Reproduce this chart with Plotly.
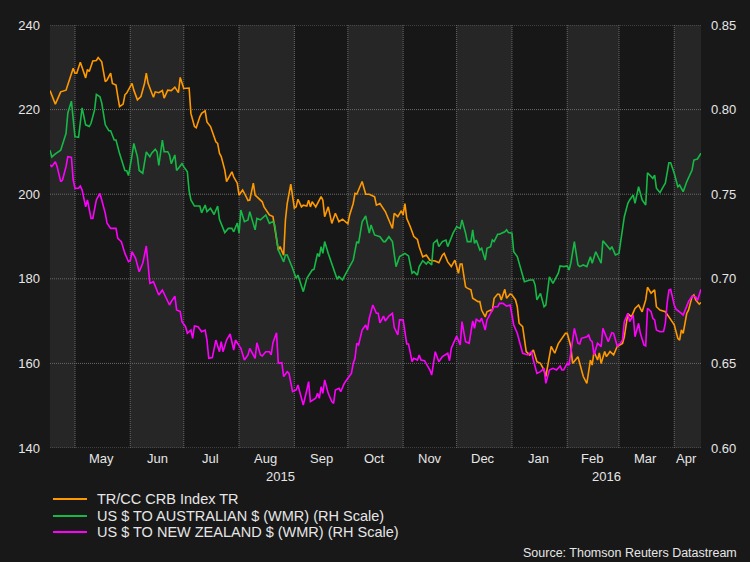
import plotly.graph_objects as go

# ---------------- data ----------------
crb = [("2015-04-17",224.5),("2015-04-20",221.3),("2015-04-23",224.2),("2015-04-26",224.6),("2015-04-30",229.8),
("2015-05-01",228.6),("2015-05-02",228.6),("2015-05-04",231.2),("2015-05-07",227.5),("2015-05-08",229.5),("2015-05-09",229.0),
("2015-05-11",231.5),("2015-05-13",231.6),("2015-05-14",232.3),("2015-05-16",231.3),("2015-05-18",226.6),("2015-05-19",227.0),
("2015-05-21",228.6),("2015-05-22",226.2),("2015-05-24",225.8),("2015-05-25",223.1),("2015-05-26",220.7),("2015-05-28",221.3),
("2015-05-29",223.5),("2015-05-30",223.9),("2015-06-02",226.2),("2015-06-03",224.6),("2015-06-05",222.3),("2015-06-07",223.1),
("2015-06-09",226.2),("2015-06-10",228.6),("2015-06-11",226.2),("2015-06-13",224.0),("2015-06-14",222.9),("2015-06-15",224.2),
("2015-06-17",224.0),("2015-06-19",224.5),("2015-06-20",222.7),("2015-06-22",224.6),("2015-06-24",224.5),("2015-06-26",225.3),
("2015-06-28",224.0),("2015-06-29",227.6),("2015-07-01",225.0),("2015-07-04",225.1),("2015-07-05",219.1),("2015-07-07",216.0),
("2015-07-08",215.7),("2015-07-10",218.3),("2015-07-11",219.1),("2015-07-13",219.7),("2015-07-14",217.1),("2015-07-16",216.0),
("2015-07-19",212.4),("2015-07-20",212.0),("2015-07-21",209.7),("2015-07-22",208.9),("2015-07-24",205.7),("2015-07-25",203.0),
("2015-07-28",205.3),("2015-07-29",204.1),("2015-07-31",202.6),("2015-08-01",199.8),("2015-08-03",201.0),("2015-08-05",199.4),
("2015-08-06",198.5),("2015-08-07",198.6),("2015-08-09",202.6),("2015-08-10",199.8),("2015-08-12",199.0),("2015-08-14",198.2),
("2015-08-15",197.0),("2015-08-18",195.1),("2015-08-20",194.7),("2015-08-21",192.3),("2015-08-23",186.8),("2015-08-24",187.6),
("2015-08-26",185.6),("2015-08-27",193.9),("2015-08-28",197.8),("2015-08-30",202.4),("2015-09-01",196.7),("2015-09-02",197.0),
("2015-09-03",198.8),("2015-09-05",197.0),("2015-09-06",197.4),("2015-09-08",197.2),("2015-09-09",198.6),("2015-09-10",197.0),
("2015-09-11",198.2),("2015-09-13",197.0),("2015-09-16",199.4),("2015-09-17",198.6),("2015-09-18",194.7),("2015-09-20",197.0),
("2015-09-22",193.1),("2015-09-24",195.5),("2015-09-26",193.5),("2015-09-28",194.1),("2015-10-01",193.0),("2015-10-02",195.1),
("2015-10-04",197.8),("2015-10-05",200.2),("2015-10-06",200.0),("2015-10-09",203.0),("2015-10-11",200.0),("2015-10-13",200.0),
("2015-10-16",199.4),("2015-10-17",197.4),("2015-10-19",197.8),("2015-10-22",195.9),("2015-10-24",193.9),("2015-10-26",191.9),
("2015-10-27",195.5),("2015-10-29",194.7),("2015-10-31",196.1),("2015-11-01",195.1),("2015-11-02",197.8),("2015-11-03",194.3),
("2015-11-05",192.3),("2015-11-07",190.0),("2015-11-09",189.3),("2015-11-10",187.6),("2015-11-12",185.2),("2015-11-14",185.6),
("2015-11-16",184.4),("2015-11-19",184.2),("2015-11-21",183.8),("2015-11-23",185.6),("2015-11-24",186.0),("2015-11-26",184.0),
("2015-11-28",182.9),("2015-11-30",184.4),("2015-12-02",181.3),("2015-12-03",183.5),("2015-12-04",183.5),("2015-12-06",178.1),
("2015-12-07",177.8),("2015-12-09",177.4),("2015-12-10",175.4),("2015-12-13",174.6),("2015-12-14",174.6),("2015-12-15",172.6),
("2015-12-17",171.0),("2015-12-18",172.2),("2015-12-20",172.6),("2015-12-21",172.5),("2015-12-22",175.4),("2015-12-24",176.4),
("2015-12-25",176.3),("2015-12-26",175.0),("2015-12-28",177.5),("2015-12-29",175.4),("2015-12-31",176.4),("2016-01-01",176.2),
("2016-01-03",175.0),("2016-01-04",173.4),("2016-01-05",169.5),("2016-01-07",168.7),("2016-01-09",162.8),("2016-01-11",162.0),
("2016-01-13",163.2),("2016-01-15",160.4),("2016-01-17",160.0),("2016-01-19",158.4),("2016-01-20",156.9),("2016-01-23",164.0),
("2016-01-25",162.4),("2016-01-27",164.7),("2016-01-31",167.1),("2016-02-01",167.1),("2016-02-03",164.0),("2016-02-04",160.0),
("2016-02-07",161.6),("2016-02-10",156.9),("2016-02-12",155.3),("2016-02-14",160.8),("2016-02-15",159.6),("2016-02-16",162.8),
("2016-02-18",160.8),("2016-02-19",162.5),("2016-02-20",160.0),("2016-02-22",162.8),("2016-02-23",161.6),("2016-02-25",162.8),
("2016-02-27",162.0),("2016-02-29",164.0),("2016-03-03",164.7),("2016-03-04",166.3),("2016-03-06",171.8),("2016-03-08",171.0),
("2016-03-10",173.0),("2016-03-12",173.8),("2016-03-14",172.2),("2016-03-16",175.0),("2016-03-17",178.0),("2016-03-19",176.6),
("2016-03-21",177.4),("2016-03-22",173.4),("2016-03-24",172.6),("2016-03-27",172.2),("2016-03-29",171.0),("2016-04-01",169.1),
("2016-04-03",165.9),("2016-04-04",165.5),("2016-04-05",167.9),("2016-04-06",167.1),("2016-04-08",171.8),("2016-04-09",172.6),
("2016-04-11",175.8),("2016-04-12",176.2),("2016-04-13",175.0),("2016-04-15",174.0),("2016-04-16",174.4)]

aud = [("2015-04-17",0.776),("2015-04-18",0.772),("2015-04-20",0.7738),("2015-04-23",0.776),("2015-04-26",0.786),("2015-04-27",0.798),
("2015-04-29",0.805),("2015-04-30",0.7939),("2015-05-01",0.784),("2015-05-03",0.7836),("2015-05-04",0.794),("2015-05-05",0.801),
("2015-05-07",0.791),("2015-05-09",0.790),("2015-05-10",0.7919),("2015-05-12",0.7998),("2015-05-13",0.809),("2015-05-15",0.8076),
("2015-05-16",0.804),("2015-05-18",0.791),("2015-05-20",0.7875),("2015-05-21",0.7875),("2015-05-23",0.782),("2015-05-24",0.782),
("2015-05-26",0.774),("2015-05-27",0.7702),("2015-05-29",0.764),("2015-05-30",0.7639),("2015-05-31",0.761),("2015-06-02",0.773),
("2015-06-03",0.780),("2015-06-05",0.7722),("2015-06-06",0.764),("2015-06-08",0.7624),("2015-06-09",0.7683),("2015-06-10",0.775),
("2015-06-12",0.7722),("2015-06-13",0.7742),("2015-06-15",0.7765),("2015-06-16",0.7751),("2015-06-17",0.767),("2015-06-19",0.782),
("2015-06-20",0.7751),("2015-06-22",0.7751),("2015-06-23",0.7732),("2015-06-24",0.768),("2015-06-26",0.7732),("2015-06-27",0.764),
("2015-06-28",0.7653),("2015-06-30",0.768),("2015-07-01",0.7663),("2015-07-03",0.7633),("2015-07-04",0.752),("2015-07-05",0.7466),
("2015-07-07",0.743),("2015-07-10",0.743),("2015-07-11",0.739),("2015-07-13",0.7436),("2015-07-14",0.7397),("2015-07-16",0.7417),
("2015-07-18",0.738),("2015-07-20",0.743),("2015-07-21",0.7352),("2015-07-24",0.7273),("2015-07-26",0.7298),("2015-07-28",0.7298),
("2015-07-29",0.7278),("2015-07-31",0.733),("2015-08-01",0.727),("2015-08-02",0.7406),("2015-08-04",0.7338),("2015-08-06",0.7348),
("2015-08-07",0.7397),("2015-08-10",0.7289),("2015-08-11",0.7357),("2015-08-13",0.7348),("2015-08-16",0.7377),("2015-08-18",0.7328),
("2015-08-20",0.7338),("2015-08-21",0.7318),("2015-08-23",0.717),("2015-08-26",0.710),("2015-08-27",0.7141),("2015-08-28",0.7141),
("2015-08-31",0.7062),("2015-09-02",0.7003),("2015-09-03",0.7022),("2015-09-06",0.6924),("2015-09-08",0.7003),("2015-09-11",0.7052),
("2015-09-12",0.7056),("2015-09-14",0.715),("2015-09-15",0.7131),("2015-09-16",0.719),("2015-09-17",0.715),("2015-09-18",0.722),
("2015-09-20",0.715),("2015-09-23",0.7052),("2015-09-25",0.6997),("2015-09-26",0.7013),("2015-09-28",0.6993),("2015-09-30",0.7033),
("2015-10-01",0.7052),("2015-10-04",0.7111),("2015-10-06",0.722),("2015-10-07",0.721),("2015-10-09",0.7337),("2015-10-11",0.7371),
("2015-10-13",0.727),("2015-10-14",0.7318),("2015-10-16",0.7259),("2015-10-19",0.7249),("2015-10-21",0.722),("2015-10-22",0.722),
("2015-10-24",0.7249),("2015-10-26",0.722),("2015-10-28",0.7072),("2015-10-30",0.7131),("2015-11-02",0.715),("2015-11-04",0.7135),
("2015-11-06",0.7033),("2015-11-07",0.7042),("2015-11-09",0.7022),("2015-11-10",0.7072),("2015-11-12",0.7107),("2015-11-14",0.7087),
("2015-11-15",0.7101),("2015-11-17",0.7082),("2015-11-18",0.721),("2015-11-20",0.7229),("2015-11-21",0.719),("2015-11-23",0.722),
("2015-11-25",0.7229),("2015-11-26",0.719),("2015-11-29",0.727),("2015-12-01",0.7308),("2015-12-03",0.7298),("2015-12-04",0.7348),
("2015-12-06",0.727),("2015-12-07",0.722),("2015-12-09",0.722),("2015-12-10",0.7289),("2015-12-11",0.721),("2015-12-12",0.7229),
("2015-12-14",0.717),("2015-12-15",0.718),("2015-12-17",0.7111),("2015-12-18",0.718),("2015-12-20",0.719),("2015-12-21",0.7229),
("2015-12-22",0.722),("2015-12-24",0.7263),("2015-12-25",0.7263),("2015-12-28",0.7278),("2015-12-29",0.7289),("2015-12-30",0.7273),
("2016-01-01",0.727),("2016-01-02",0.716),("2016-01-04",0.7131),("2016-01-06",0.7052),("2016-01-08",0.6983),("2016-01-11",0.6993),
("2016-01-13",0.6993),("2016-01-14",0.6963),("2016-01-15",0.6875),("2016-01-17",0.6914),("2016-01-19",0.6835),("2016-01-20",0.6845),
("2016-01-22",0.7012),("2016-01-24",0.6973),("2016-01-25",0.6993),("2016-01-27",0.7033),("2016-01-28",0.7076),("2016-01-30",0.7072),
("2016-02-01",0.7076),("2016-02-02",0.7052),("2016-02-03",0.7092),("2016-02-05",0.722),("2016-02-07",0.7082),("2016-02-08",0.7072),
("2016-02-10",0.7082),("2016-02-12",0.7072),("2016-02-14",0.713),("2016-02-15",0.7092),("2016-02-17",0.716),("2016-02-20",0.7092),
("2016-02-21",0.7225),("2016-02-23",0.720),("2016-02-25",0.7174),("2016-02-26",0.719),("2016-02-28",0.7141),("2016-03-01",0.715),
("2016-03-02",0.7229),("2016-03-04",0.7367),("2016-03-06",0.7446),("2016-03-07",0.7466),("2016-03-09",0.7495),("2016-03-10",0.7446),
("2016-03-12",0.7544),("2016-03-14",0.7466),("2016-03-16",0.7436),("2016-03-17",0.7627),("2016-03-20",0.7594),("2016-03-21",0.7613),
("2016-03-22",0.7535),("2016-03-24",0.7509),("2016-03-26",0.7548),("2016-03-27",0.7565),("2016-03-29",0.7686),("2016-03-30",0.7686),
("2016-04-01",0.7624),("2016-04-03",0.7544),("2016-04-04",0.7554),("2016-04-06",0.7515),("2016-04-08",0.7574),("2016-04-10",0.7624),
("2016-04-11",0.7643),("2016-04-12",0.7702),("2016-04-14",0.7708),("2016-04-16",0.7742)]

nzd = [("2015-04-17",0.7673),("2015-04-18",0.7663),("2015-04-20",0.7692),("2015-04-21",0.7663),("2015-04-23",0.7574),("2015-04-24",0.7584),
("2015-04-26",0.7663),("2015-04-27",0.7722),("2015-04-29",0.7718),("2015-04-30",0.7584),("2015-05-01",0.7535),("2015-05-03",0.7535),
("2015-05-04",0.7548),("2015-05-05",0.7525),("2015-05-07",0.7426),("2015-05-08",0.7466),("2015-05-10",0.7357),("2015-05-11",0.7357),
("2015-05-13",0.7466),("2015-05-15",0.7505),("2015-05-16",0.7466),("2015-05-18",0.7387),("2015-05-19",0.7328),("2015-05-21",0.7298),
("2015-05-24",0.7298),("2015-05-25",0.7239),("2015-05-27",0.722),("2015-05-29",0.715),("2015-05-31",0.7101),("2015-06-01",0.7107),
("2015-06-02",0.716),("2015-06-04",0.7121),("2015-06-06",0.7042),("2015-06-08",0.7092),("2015-06-10",0.7194),("2015-06-12",0.6973),
("2015-06-14",0.6983),("2015-06-17",0.6904),("2015-06-19",0.6934),("2015-06-21",0.6885),("2015-06-23",0.6845),("2015-06-24",0.6865),
("2015-06-26",0.6898),("2015-06-27",0.6816),("2015-06-29",0.6806),("2015-06-30",0.6747),("2015-07-02",0.6717),("2015-07-03",0.6678),
("2015-07-05",0.6697),("2015-07-06",0.6648),("2015-07-07",0.6721),("2015-07-09",0.6717),("2015-07-11",0.6687),("2015-07-13",0.6697),
("2015-07-14",0.6638),("2015-07-15",0.653),("2015-07-17",0.6534),("2015-07-19",0.6638),("2015-07-21",0.6569),("2015-07-22",0.6628),
("2015-07-23",0.6569),("2015-07-25",0.6638),("2015-07-27",0.6674),("2015-07-29",0.6579),("2015-07-30",0.6638),("2015-08-02",0.6589),
("2015-08-04",0.652),("2015-08-06",0.655),("2015-08-07",0.6589),("2015-08-10",0.653),("2015-08-11",0.6622),("2015-08-13",0.655),
("2015-08-14",0.6544),("2015-08-16",0.6569),("2015-08-18",0.6569),("2015-08-19",0.655),("2015-08-20",0.6622),("2015-08-22",0.6681),
("2015-08-23",0.650),("2015-08-25",0.6504),("2015-08-26",0.6422),("2015-08-28",0.6451),("2015-08-29",0.6441),("2015-08-31",0.6333),
("2015-09-02",0.6343),("2015-09-03",0.6372),("2015-09-05",0.6303),("2015-09-06",0.6254),("2015-09-08",0.6343),("2015-09-09",0.6392),
("2015-09-10",0.6274),("2015-09-13",0.6294),("2015-09-14",0.6323),("2015-09-15",0.6294),("2015-09-16",0.6362),("2015-09-17",0.6323),
("2015-09-18",0.6402),("2015-09-20",0.6323),("2015-09-22",0.6274),("2015-09-23",0.6264),("2015-09-24",0.6343),("2015-09-26",0.6353),
("2015-09-27",0.6333),("2015-09-29",0.6382),("2015-10-01",0.6412),("2015-10-03",0.6441),("2015-10-04",0.650),("2015-10-05",0.653),
("2015-10-06",0.6619),("2015-10-07",0.6609),("2015-10-09",0.6697),("2015-10-11",0.6727),("2015-10-12",0.6697),("2015-10-13",0.6767),
("2015-10-15",0.6845),("2015-10-17",0.6796),("2015-10-18",0.6796),("2015-10-19",0.674),("2015-10-21",0.678),("2015-10-22",0.6751),
("2015-10-24",0.678),("2015-10-26",0.6796),("2015-10-27",0.6713),("2015-10-29",0.6668),("2015-10-30",0.6757),("2015-11-01",0.6757),
("2015-11-03",0.6615),("2015-11-04",0.6615),("2015-11-06",0.651),("2015-11-07",0.653),("2015-11-09",0.652),("2015-11-10",0.655),
("2015-11-11",0.652),("2015-11-13",0.6516),("2015-11-16",0.6461),("2015-11-17",0.6431),("2015-11-19",0.6569),("2015-11-21",0.651),
("2015-11-23",0.654),("2015-11-26",0.656),("2015-11-27",0.6516),("2015-11-28",0.6589),("2015-12-01",0.6662),("2015-12-03",0.6609),
("2015-12-04",0.6747),("2015-12-06",0.6628),("2015-12-08",0.6619),("2015-12-10",0.6751),("2015-12-11",0.6707),("2015-12-12",0.6761),
("2015-12-14",0.6747),("2015-12-15",0.6767),("2015-12-17",0.6697),("2015-12-18",0.6757),("2015-12-20",0.6796),("2015-12-22",0.6835),
("2015-12-24",0.6835),("2015-12-25",0.6855),("2015-12-27",0.6855),("2015-12-29",0.6839),("2015-12-31",0.6845),("2016-01-02",0.6727),
("2016-01-04",0.6678),("2016-01-07",0.656),("2016-01-10",0.655),("2016-01-12",0.6569),("2016-01-13",0.652),("2016-01-15",0.6441),
("2016-01-17",0.6451),("2016-01-19",0.6471),("2016-01-20",0.6382),("2016-01-22",0.6461),("2016-01-24",0.6471),("2016-01-26",0.6461),
("2016-01-28",0.6485),("2016-01-29",0.6461),("2016-01-30",0.6461),("2016-02-01",0.650),("2016-02-02",0.649),("2016-02-04",0.6658),
("2016-02-05",0.6707),("2016-02-07",0.6619),("2016-02-08",0.6615),("2016-02-09",0.6648),("2016-02-12",0.6658),("2016-02-13",0.6668),
("2016-02-14",0.6638),("2016-02-15",0.6628),("2016-02-16",0.655),("2016-02-18",0.6619),("2016-02-20",0.6599),("2016-02-21",0.6707),
("2016-02-23",0.6648),("2016-02-24",0.6628),("2016-02-26",0.6681),("2016-02-27",0.6678),("2016-02-29",0.6603),("2016-03-02",0.6622),
("2016-03-03",0.6638),("2016-03-04",0.6747),("2016-03-06",0.6796),("2016-03-07",0.6747),("2016-03-09",0.6786),("2016-03-10",0.6658),
("2016-03-12",0.6737),("2016-03-13",0.6678),("2016-03-15",0.6609),("2016-03-16",0.6603),("2016-03-17",0.6826),("2016-03-19",0.6806),
("2016-03-20",0.6767),("2016-03-21",0.6757),("2016-03-22",0.6697),("2016-03-24",0.6687),("2016-03-26",0.6688),("2016-03-27",0.6737),
("2016-03-28",0.6855),("2016-03-29",0.6934),("2016-03-30",0.6938),("2016-04-01",0.6845),("2016-04-02",0.6820),("2016-04-04",0.6806),
("2016-04-05",0.6796),("2016-04-06",0.6786),("2016-04-08",0.6835),("2016-04-09",0.6865),("2016-04-11",0.6898),("2016-04-13",0.6894),
("2016-04-14",0.6871),("2016-04-15",0.6904),("2016-04-16",0.6938)]

series_names = ["TR/CC CRB Index TR", "US $ TO AUSTRALIAN $ (WMR) (RH Scale)", "US $ TO NEW ZEALAND $ (WMR) (RH Scale)"]
series_colors = ["#FF9900", "#16B946", "#FF00FF"]

month_starts = ["2015-05-01","2015-06-01","2015-07-01","2015-08-01","2015-09-01","2015-10-01","2015-11-01",
                "2015-12-01","2016-01-01","2016-02-01","2016-03-01","2016-04-01"]
month_label_dates = ["2015-05-16","2015-06-16","2015-07-16","2015-08-16","2015-09-16","2015-10-16","2015-11-16",
                     "2015-12-16","2016-01-16","2016-02-15","2016-03-16","2016-04-08"]
month_labels = ["May","Jun","Jul","Aug","Sep","Oct","Nov","Dec","Jan","Feb","Mar","Apr"]
year_label_dates = ["2015-08-24","2016-02-23"]
year_labels = ["2015","2016"]
shaded_bands = [("2015-04-17","2015-05-01"),("2015-06-01","2015-07-01"),("2015-08-01","2015-09-01"),
                ("2015-10-01","2015-11-01"),("2015-12-01","2016-01-01"),("2016-02-01","2016-03-01"),
                ("2016-04-01","2016-04-16")]
x_range = ["2015-04-17","2016-04-16"]
left_range = [140, 240]
right_range = [0.60, 0.85]
left_ticks = [140,160,180,200,220,240]
right_ticks = [0.60,0.65,0.70,0.75,0.80,0.85]

# ---------------- figure ----------------
FONT = "Liberation Sans, Arial, sans-serif"
TXT = "#E6E6E6"
GRID = "#6A6A6A"
GRID_DASH = "1px,1px"
PAGE_BG = "#181818"

fig = go.Figure()
for data, name, color, axis in zip([crb, aud, nzd], series_names, series_colors, ["y", "y2", "y2"]):
    fig.add_trace(go.Scatter(x=[d for d, _ in data], y=[v for _, v in data], mode="lines", name=name,
                             line=dict(color=color, width=1.6), yaxis=axis, showlegend=False))

shapes = [dict(type="rect", xref="x", yref="paper", x0=a, x1=b, y0=0, y1=1,
               fillcolor="#262626", line=dict(width=0), layer="below") for a, b in shaded_bands]
# grid lines (month boundaries and left-axis ticks)
shapes += [dict(type="line", xref="x", yref="paper", x0=m, x1=m, y0=0, y1=1,
                line=dict(color=GRID, width=1, dash=GRID_DASH), layer="between") for m in month_starts]
shapes += [dict(type="line", xref="paper", yref="y", x0=0, x1=1, y0=t, y1=t,
                line=dict(color=GRID, width=1, dash=GRID_DASH), layer="between") for t in left_ticks]

# legend drawn beneath the chart
legend_rows_y = [-0.1206, -0.1608, -0.1986]
for name, color, ly in zip(series_names, series_colors, legend_rows_y):
    shapes.append(dict(type="line", xref="paper", yref="paper", x0=0.0046, x1=0.0568, y0=ly, y1=ly,
                       line=dict(color=color, width=2)))

annotations = []
for name, ly in zip(series_names, legend_rows_y):
    annotations.append(dict(x=0.0691, xref="paper", y=ly, yref="paper", text=name, showarrow=False,
                            xanchor="left", yanchor="middle", font=dict(family=FONT, size=14.5, color=TXT)))
for d, t in zip(month_label_dates, month_labels):
    annotations.append(dict(x=d, xref="x", y=-0.026, yref="paper", text=t, showarrow=False,
                            xanchor="center", yanchor="middle", font=dict(family=FONT, size=13, color=TXT)))
for d, t in zip(year_label_dates, year_labels):
    annotations.append(dict(x=d, xref="x", y=-0.068, yref="paper", text=t, showarrow=False,
                            xanchor="center", yanchor="middle", font=dict(family=FONT, size=13, color=TXT)))
annotations.append(dict(x=1.058, xref="paper", y=-0.2475, yref="paper", text="Source: Thomson Reuters Datastream",
                        showarrow=False, xanchor="right", yanchor="middle", font=dict(family=FONT, size=12.5, color=TXT)))

fig.update_layout(
    width=750, height=562,
    margin=dict(l=50, r=49, t=25, b=114),
    paper_bgcolor=PAGE_BG, plot_bgcolor="#171717",
    font=dict(family=FONT, color=TXT, size=13),
    shapes=shapes, annotations=annotations,
    showlegend=False,
    xaxis=dict(type="date", range=x_range, showticklabels=False, ticks="", showgrid=False,
               zeroline=False, showline=False, automargin=False),
    yaxis=dict(range=left_range, tickvals=left_ticks, showgrid=False,
               zeroline=False, showline=False, ticks="", ticklabelstandoff=9, automargin=False,
               tickfont=dict(family=FONT, size=13, color=TXT)),
    yaxis2=dict(range=right_range, tickvals=right_ticks, tickformat=".2f", overlaying="y", side="right",
                showgrid=False, zeroline=False, showline=False, ticks="", ticklabelstandoff=9, automargin=False,
                tickfont=dict(family=FONT, size=13, color=TXT)),
)
# remove the default page margin so the figure fills the window, with a matching page background
page_js = ("document.body.style.margin='0';document.body.style.padding='0';"
           "document.body.style.background='" + PAGE_BG + "';"
           "document.documentElement.style.background='" + PAGE_BG + "';"
           "document.body.style.overflow='hidden';")
fig.write_html("out.html", post_script=page_js, config={"displayModeBar": False})
